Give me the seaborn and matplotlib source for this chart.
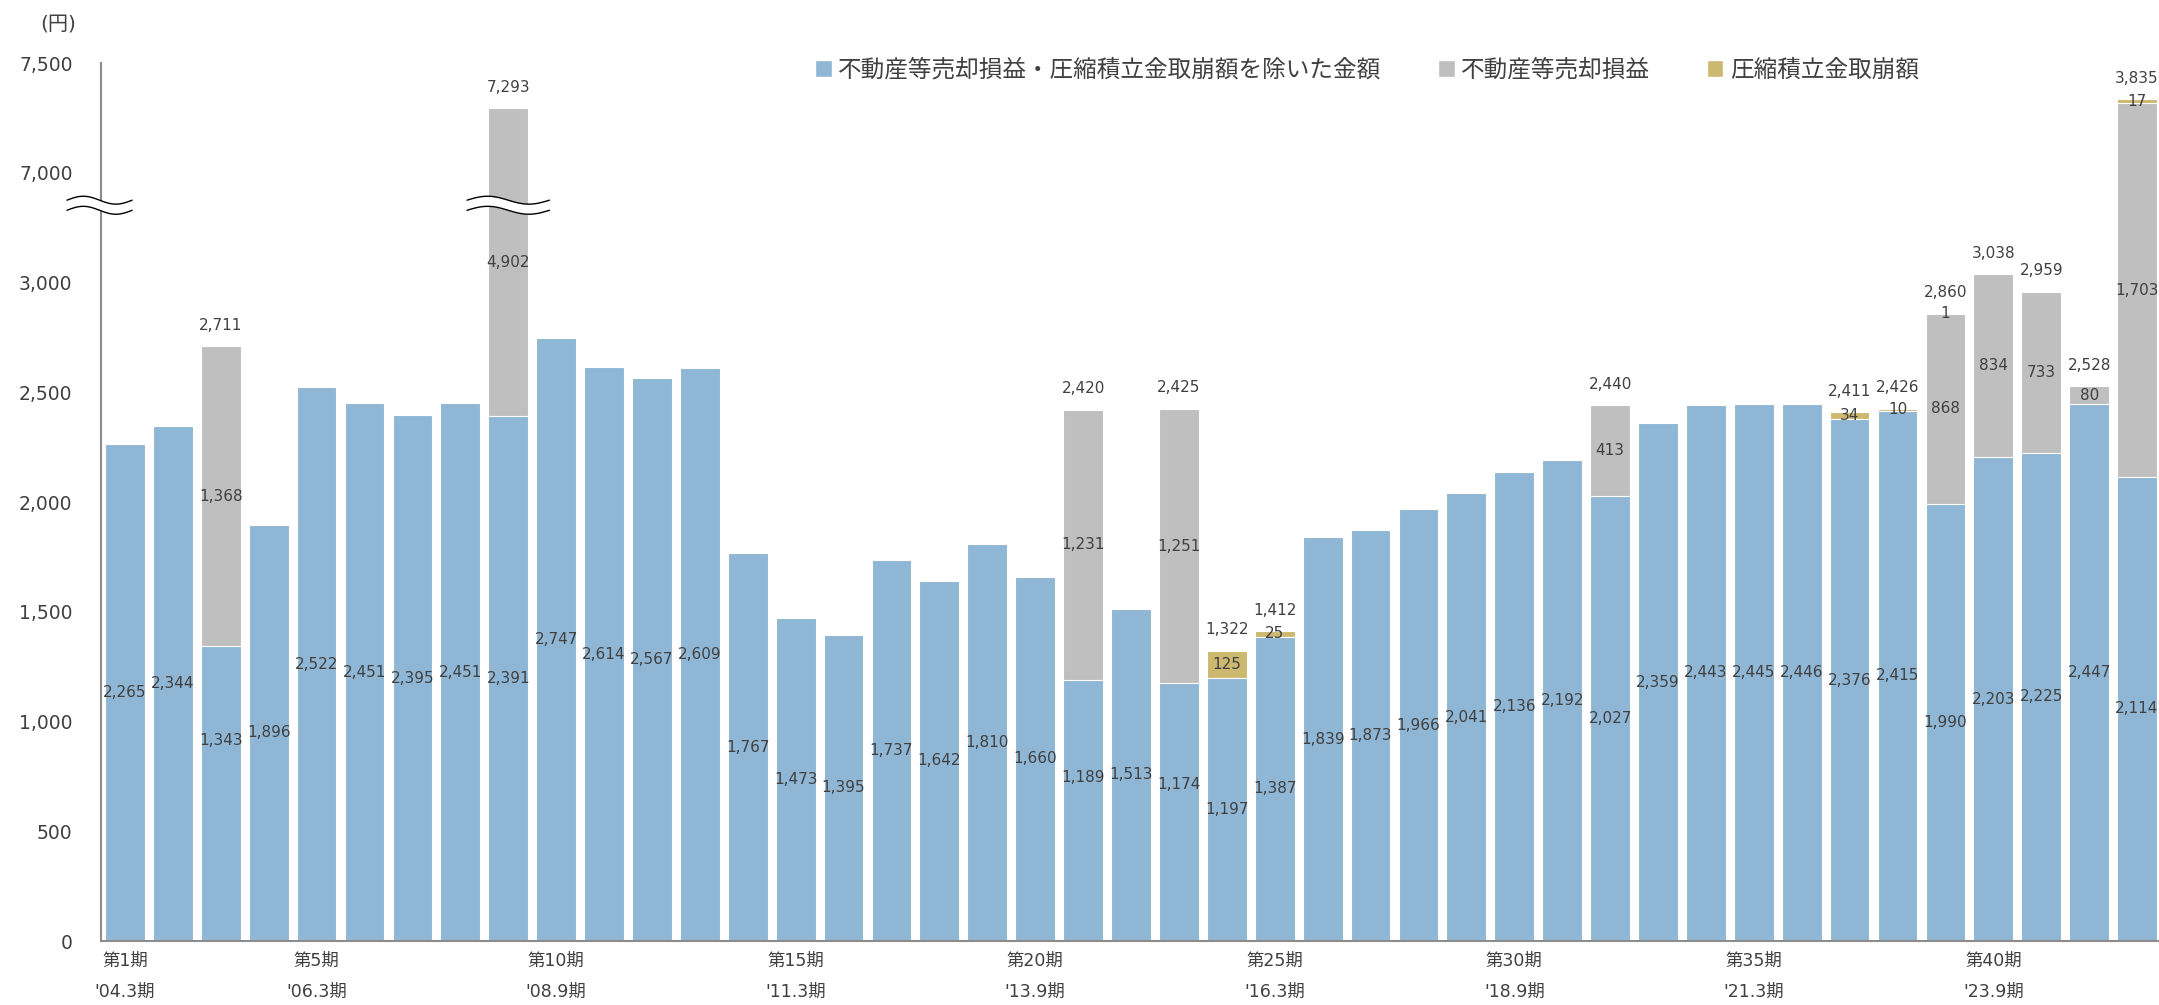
import numpy as np
import pandas as pd
import seaborn as sns
import matplotlib.pyplot as plt
from matplotlib.patches import Patch

# 第1期 .. 第43期
periods = [f"第{i}期" for i in range(1, 44)]
base = [2265, 2344, 1343, 1896, 2522, 2451, 2395, 2451, 2391, 2747,
        2614, 2567, 2609, 1767, 1473, 1395, 1737, 1642, 1810, 1660,
        1189, 1513, 1174, 1197, 1387, 1839, 1873, 1966, 2041, 2136,
        2192, 2027, 2359, 2443, 2445, 2446, 2376, 2415, 1990, 2203,
        2225, 2447, 2114]
# period number -> value
gain = {3: 1368, 9: 4902, 21: 1231, 23: 1251, 32: 413,
        39: 868, 40: 834, 41: 733, 42: 80, 43: 1703}
reserve = {24: 125, 25: 25, 37: 34, 38: 10, 39: 1, 43: 17}
totals = {3: 2711, 9: 7293, 21: 2420, 23: 2425, 24: 1322, 25: 1412, 32: 2440,
          37: 2411, 38: 2426, 39: 2860, 40: 3038, 41: 2959, 42: 2528, 43: 3835}

tick_periods = [1, 5, 10, 15, 20, 25, 30, 35, 40]
tick_dates = ["'04.3期", "'06.3期", "'08.9期", "'11.3期", "'13.9期",
              "'16.3期", "'18.9期", "'21.3期", "'23.9期"]

series_names = ['不動産等売却損益・圧縮積立金取崩額を除いた金額', '不動産等売却損益', '圧縮積立金取崩額']
c_blue, c_gray, c_gold = '#8fb6d4', '#bfbfbf', '#ccb86e'
txt = '#404040'

# broken axis: 7,000 is drawn where 3,500 would be
BREAK = 3500

n = len(periods)
g = np.array([gain.get(i + 1, 0) for i in range(n)], dtype=float)
r = np.array([reserve.get(i + 1, 0) for i in range(n)], dtype=float)
b = np.array(base, dtype=float)
g_plot = g.copy()
over = b + g + r > 7000
g_plot[over] = g[over] - BREAK

df = pd.DataFrame({'period': periods, 'base': b,
                   'top2': b + g_plot, 'top3': b + g_plot + r})

sns.set_style('white')
plt.rcParams['font.family'] = ['DejaVu Sans', 'Noto Sans CJK JP']

fig = plt.figure(figsize=(21.59, 10.05), dpi=100)
ax = fig.add_axes([101 / 2159, 64 / 1005, 2060 / 2159, 878 / 1005])

kw = dict(data=df, x='period', order=periods, width=0.83, saturation=1,
          errorbar=None, edgecolor='white', linewidth=0.8, ax=ax)
sns.barplot(y='top3', color=c_gold, **kw)
sns.barplot(y='top2', color=c_gray, **kw)
sns.barplot(y='base', color=c_blue, **kw)

ax.set_xlim(-0.5, n - 0.5)
ax.set_ylim(0, 4000)
ax.set_xlabel('')
ax.set_ylabel('')

# axes styling
for s in ['top', 'right']:
    ax.spines[s].set_visible(False)
for s in ['left', 'bottom']:
    ax.spines[s].set_color('#8c8c8c')
    ax.spines[s].set_linewidth(1.5)

yt = [0, 500, 1000, 1500, 2000, 2500, 3000, 3500, 4000]
ylab = ['0', '500', '1,000', '1,500', '2,000', '2,500', '3,000', '7,000', '7,500']
ax.set_yticks(yt)
ax.set_yticklabels(ylab)
ax.tick_params(axis='y', direction='out', length=4.5, width=1.5, color='#8c8c8c',
               labelsize=13.5, labelcolor=txt, pad=16)

ax.set_xticks([p - 1 for p in tick_periods])
ax.set_xticklabels([f"第{p}期\n{d}" for p, d in zip(tick_periods, tick_dates)],
                   linespacing=1.9)
ax.set_xticks(np.arange(-0.5, n, 1), minor=True)
ax.tick_params(axis='x', which='major', length=0, labelsize=12.5, labelcolor=txt, pad=8)
ax.tick_params(axis='x', which='minor', direction='out', length=4.5, width=1, color='#8c8c8c')

# data labels
fs = 11
nudge = {3: 53, 21: 33, 23: 28}  # px upward
for i in range(n):
    p = i + 1
    ax.annotate(f"{int(b[i]):,}", (i, b[i] / 2), xytext=(0, nudge.get(p, 0) * 0.72),
                textcoords='offset points', ha='center', va='center',
                fontsize=fs, color=txt)
    if g[i] > 0:
        ax.text(i, b[i] + g_plot[i] / 2, f"{int(g[i]):,}", ha='center', va='center',
                fontsize=fs, color=txt)
    if r[i] > 0:
        ax.text(i, b[i] + g_plot[i] + r[i] / 2, f"{int(r[i]):,}", ha='center', va='center',
                fontsize=fs, color=txt)
    if p in totals:
        ax.annotate(f"{totals[p]:,}", (i, b[i] + g_plot[i] + r[i]), xytext=(0, 15),
                    textcoords='offset points', ha='center', va='center',
                    fontsize=fs, color=txt)

# break marks
def wave(x0, x1, yc=3352, amp=18, gap=46):
    t = np.linspace(0, 1, 80)
    x = x0 + (x1 - x0) * t
    y = yc + amp * np.sin(2 * np.pi * t)
    ax.fill_between(x, y - gap / 2, y + gap / 2, color='white', lw=0, zorder=5, clip_on=False)
    ax.plot(x, y + gap / 2, color='black', lw=1, zorder=6, clip_on=False)
    ax.plot(x, y - gap / 2, color='black', lw=1, zorder=6, clip_on=False)

wave(-1.21, 0.15)
wave(8 - 0.86, 8 + 0.86)

handles = [Patch(facecolor=c) for c in (c_blue, c_gray, c_gold)]
fig.legend(handles, series_names, loc='center left', bbox_to_anchor=(815 / 2159, 1 - 70 / 1005),
           ncol=3, frameon=False, handlelength=0.7, handleheight=0.7, handletextpad=0.28,
           columnspacing=2.4, borderpad=0, borderaxespad=0, fontsize=17,
           labelcolor=txt)

fig.text(40 / 2159, 1 - 24 / 1005, '(円)', fontsize=14.5, color=txt, ha='left', va='center')

fig.savefig('out.png', dpi=100)
